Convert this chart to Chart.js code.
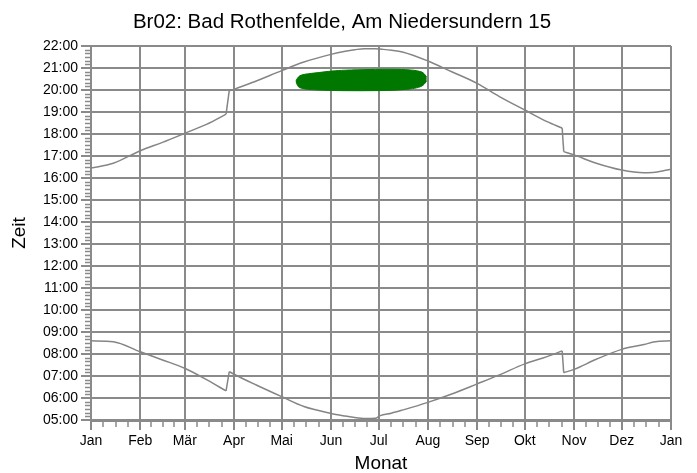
<!DOCTYPE html>
<html>
<head>
<meta charset="utf-8">
<script src="https://cdn.jsdelivr.net/npm/chart.js@4.4.1/dist/chart.umd.min.js"></script>
<style>
  html, body { margin: 0; padding: 0; background: #fff; }
  canvas { display: block; }
</style>
</head>
<body>
<canvas id="chart" width="697" height="473"></canvas>
<script>
// Tage im Jahr (0 = 1. Jan), Monatsanfaenge fuer die Achse
const monthStarts = [0, 31, 59, 90, 120, 151, 181, 212, 243, 273, 304, 334, 365];
const monthLabels = ['Jan', 'Feb', 'Mär', 'Apr', 'Mai', 'Jun', 'Jul', 'Aug', 'Sep', 'Okt', 'Nov', 'Dez', 'Jan'];

// Sonnenauf-/untergang (Stunden, Dezimal)
const days =        [0, 14, 31, 45, 59, 73, 85, 87, 90, 104, 120, 134, 151, 160, 166, 172, 179, 182, 189, 196, 212, 227, 243, 257, 273, 287, 296.5, 297.5, 304, 318, 334, 348, 355, 365];
const sunsetTime =  [16.45, 16.67, 17.24, 17.62, 18.03, 18.45, 18.90, 19.97, 20.03, 20.41, 20.88, 21.27, 21.62, 21.76, 21.83, 21.88, 21.88, 21.86, 21.81, 21.73, 21.32, 20.83, 20.30, 19.70, 19.09, 18.56, 18.27, 17.20, 17.05, 16.67, 16.36, 16.24, 16.26, 16.40];
const sunriseTime = [8.60, 8.56, 8.10, 7.73, 7.35, 6.82, 6.32, 7.20, 7.08, 6.59, 6.06, 5.61, 5.30, 5.18, 5.11, 5.07, 5.08, 5.20, 5.31, 5.45, 5.80, 6.18, 6.64, 7.05, 7.55, 7.88, 8.14, 7.15, 7.30, 7.76, 8.21, 8.43, 8.56, 8.60];
// Zeitumstellung: Index des ersten Punktes nach dem Sprung
const dstSwitch = [7, 27];

// Schattenwurf-Zeitraum
const shadowDays = [129, 130.5, 132.5, 137, 143, 151.5, 160, 175, 190, 201, 206, 209, 211.3];
const shadowFrom = [20.38, 20.15, 20.08, 20.03, 20.00, 19.98, 19.97, 19.97, 19.99, 20.05, 20.12, 20.22, 20.42];
const shadowTo =   [20.42, 20.59, 20.68, 20.74, 20.79, 20.86, 20.90, 20.93, 20.94, 20.91, 20.86, 20.78, 20.58];

const gridColor = '#8a8a8a';
const lineColor = '#858585';
const shadowColor = '#007800';
const font = 'Liberation Sans, Arial, sans-serif';

const pts = (xs, ys) => xs.map((x, i) => ({ x: x, y: ys[i] }));

// Kurve in Abschnitte zwischen den Spruengen zerlegen, damit der Spline nicht ueberschwingt
function curveSets(ys) {
    const all = pts(days, ys);
    const cuts = [0, ...dstSwitch, all.length];
    const sets = [];
    for (let i = 0; i < cuts.length - 1; i++) sets.push(all.slice(cuts[i], cuts[i + 1]));
    dstSwitch.forEach(s => sets.push(all.slice(s - 1, s + 1)));
    return sets.map(d => ({
        data: d, borderColor: lineColor, borderWidth: 1.5, pointRadius: 0,
        fill: false, cubicInterpolationMode: 'monotone'
    }));
}

// kleine Zwischenstriche an den Achsen
const minorTicks = {
    id: 'minorTicks',
    afterDraw(chart) {
        const { ctx, scales: { x, y } } = chart;
        ctx.save();
        ctx.strokeStyle = gridColor;
        ctx.lineWidth = 1.5;
        ctx.beginPath();
        for (let m = 0; m < 12; m++) {
            const a = monthStarts[m], b = monthStarts[m + 1];
            for (let k = 1; k < 4; k++) {
                const px = Math.round(x.getPixelForValue(a + (b - a) * k / 4));
                ctx.moveTo(px, y.bottom);
                ctx.lineTo(px, y.bottom + 7);
            }
        }
        for (let h = 5; h < 22; h++) {
            for (let k = 1; k < 6; k++) {
                const py = Math.round(y.getPixelForValue(h + k / 6)) + 0.5;
                ctx.moveTo(x.left - 6, py);
                ctx.lineTo(x.left, py);
            }
        }
        ctx.stroke();
        ctx.restore();
    }
};

new Chart(document.getElementById('chart'), {
    type: 'line',
    data: {
        datasets: [
            { data: pts(shadowDays, shadowFrom), borderColor: shadowColor, borderWidth: 1, pointRadius: 0, fill: false, tension: 0.4 },
            { data: pts(shadowDays, shadowTo), borderColor: shadowColor, borderWidth: 1, pointRadius: 0, fill: '-1', backgroundColor: shadowColor, tension: 0.4 },
            ...curveSets(sunsetTime),
            ...curveSets(sunriseTime)
        ]
    },
    options: {
        responsive: false,
        animation: false,
        layout: { padding: { left: 13, right: 26, top: 0, bottom: 0 } },
        plugins: {
            legend: { display: false },
            tooltip: { enabled: false },
            title: {
                display: true,
                text: 'Br02: Bad Rothenfelde, Am Niedersundern 15',
                color: '#000',
                font: { family: font, size: 20.5, weight: 'normal', lineHeight: 1.2 },
                padding: { top: 10, bottom: 11.4 }
            }
        },
        scales: {
            x: {
                type: 'linear',
                min: 0,
                max: 365,
                afterBuildTicks: (scale) => { scale.ticks = monthStarts.map(v => ({ value: v })); },
                afterFit: (scale) => { scale.height = 53; },
                ticks: {
                    autoSkip: false,
                    maxRotation: 0,
                    padding: 3,
                    color: '#000',
                    font: { family: font, size: 14 },
                    callback: (v, i) => monthLabels[i]
                },
                grid: { color: gridColor, lineWidth: 2, tickLength: 10 },
                border: { color: gridColor, width: 3 },
                title: {
                    display: true,
                    text: 'Monat',
                    color: '#000',
                    font: { family: font, size: 19, lineHeight: 1 },
                    padding: { top: 0, bottom: 0 }
                }
            },
            y: {
                min: 5,
                max: 22,
                afterFit: (scale) => { scale.width = 78; },
                ticks: {
                    stepSize: 1,
                    padding: 3,
                    color: '#000',
                    font: { family: font, size: 14 },
                    callback: (v) => String(v).padStart(2, '0') + ':00'
                },
                grid: { color: gridColor, lineWidth: 2, tickLength: 10 },
                border: { color: gridColor, width: 2 },
                title: {
                    display: true,
                    text: 'Zeit',
                    color: '#000',
                    font: { family: font, size: 19, lineHeight: 1 },
                    padding: { top: -3, bottom: 0 }
                }
            }
        }
    },
    plugins: [minorTicks]
});
</script>
</body>
</html>
